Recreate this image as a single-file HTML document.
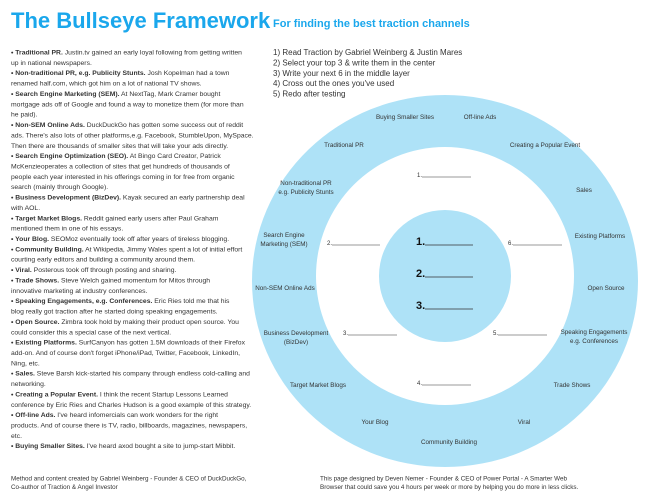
<!DOCTYPE html>
<html><head><meta charset="utf-8"><style>
html,body{margin:0;padding:0;background:#fff;}
svg{display:block;font-family:"Liberation Sans",sans-serif;}
</style></head><body>
<svg width="650" height="495" viewBox="0 0 650 495" xmlns="http://www.w3.org/2000/svg">
<rect width="650" height="495" fill="#fff"/>
<text x="11" y="28" font-size="22" font-weight="bold" fill="#1aa7ec">The Bullseye Framework</text>
<text x="273" y="27" font-size="11" font-weight="bold" fill="#1aa7ec">For finding the best traction channels</text>

<ellipse cx="445" cy="281" rx="193" ry="186" fill="#aee2f7"/>
<circle cx="445" cy="276" r="129" fill="#fff"/>
<circle cx="445" cy="276" r="66" fill="#aee2f7"/>

<g font-size="8" fill="#333">
<text x="273" y="55">1) Read Traction by Gabriel Weinberg &amp; Justin Mares</text>
<text x="273" y="65.5">2) Select your top 3 &amp; write them in the center</text>
<text x="273" y="76">3) Write your next 6 in the middle layer</text>
<text x="273" y="86">4) Cross out the ones you've used</text>
<text x="273" y="96.5">5) Redo after testing</text>
</g>

<g font-size="6.3" fill="#333" text-anchor="middle">
<text x="405" y="119">Buying Smaller Sites</text>
<text x="480" y="119">Off-line Ads</text>
<text x="344" y="147">Traditional PR</text>
<text x="545" y="147">Creating a Popular Event</text>
<text x="306" y="185">Non-traditional PR</text>
<text x="306" y="194">e.g. Publicity Stunts</text>
<text x="584" y="192">Sales</text>
<text x="284" y="237">Search Engine</text>
<text x="284" y="246">Marketing (SEM)</text>
<text x="600" y="238">Existing Platforms</text>
<text x="285" y="290">Non-SEM Online Ads</text>
<text x="606" y="290">Open Source</text>
<text x="296" y="335">Business Development</text>
<text x="296" y="344">(BizDev)</text>
<text x="594" y="334">Speaking Engagements</text>
<text x="594" y="343">e.g. Conferences</text>
<text x="318" y="387">Target Market Blogs</text>
<text x="572" y="387">Trade Shows</text>
<text x="375" y="424">Your Blog</text>
<text x="524" y="424">Viral</text>
<text x="449" y="444">Community Building</text>
</g>

<g font-size="6" fill="#333">
<text x="417" y="177">1.</text><line x1="422" y1="177" x2="471" y2="177" stroke="#333" stroke-width="0.6"/>
<text x="327" y="245">2.</text><line x1="332" y1="245" x2="380" y2="245" stroke="#333" stroke-width="0.6"/>
<text x="508" y="245">6.</text><line x1="513" y1="245" x2="562" y2="245" stroke="#333" stroke-width="0.6"/>
<text x="343" y="335">3.</text><line x1="348" y1="335" x2="397" y2="335" stroke="#333" stroke-width="0.6"/>
<text x="493" y="335">5.</text><line x1="498" y1="335" x2="547" y2="335" stroke="#333" stroke-width="0.6"/>
<text x="417" y="385">4.</text><line x1="422" y1="385" x2="471" y2="385" stroke="#333" stroke-width="0.6"/>
</g>
<g font-size="11" font-weight="bold" fill="#111">
<text x="416" y="245">1.</text><line x1="425" y1="245" x2="473" y2="245" stroke="#333" stroke-width="0.7"/>
<text x="416" y="277">2.</text><line x1="425" y1="277" x2="473" y2="277" stroke="#333" stroke-width="0.7"/>
<text x="416" y="309">3.</text><line x1="425" y1="309" x2="473" y2="309" stroke="#333" stroke-width="0.7"/>
</g>

<g font-size="6.8" fill="#333">
<text x="11" y="54.5"><tspan font-weight="bold">•  Traditional PR.</tspan> Justin.tv gained an early loyal following from getting written</text>
<text x="11" y="64.9">up in national newspapers.</text>
<text x="11" y="75.2"><tspan font-weight="bold">•  Non-traditional PR, e.g. Publicity Stunts.</tspan> Josh Kopelman had a town</text>
<text x="11" y="85.6">renamed half.com, which got him on a lot of national TV shows.</text>
<text x="11" y="96"><tspan font-weight="bold">•  Search Engine Marketing (SEM).</tspan> At NextTag, Mark Cramer bought</text>
<text x="11" y="106.3">mortgage ads off of Google and found a way to monetize them (for more than</text>
<text x="11" y="116.7">he paid).</text>
<text x="11" y="127"><tspan font-weight="bold">•  Non-SEM Online Ads.</tspan> DuckDuckGo has gotten some success out of reddit</text>
<text x="11" y="137.4">ads. There's also lots of other platforms,e.g. Facebook, StumbleUpon, MySpace.</text>
<text x="11" y="147.8">Then there are thousands of smaller sites that will take your ads directly.</text>
<text x="11" y="158.1"><tspan font-weight="bold">•  Search Engine Optimization (SEO).</tspan> At Bingo Card Creator, Patrick</text>
<text x="11" y="168.5">McKenzieoperates a collection of sites that get hundreds of thousands of</text>
<text x="11" y="178.9">people each year interested in his offerings coming in for free from organic</text>
<text x="11" y="189.2">search (mainly through Google).</text>
<text x="11" y="199.6"><tspan font-weight="bold">•  Business Development (BizDev).</tspan> Kayak secured an early partnership deal</text>
<text x="11" y="209.9">with AOL.</text>
<text x="11" y="220.3"><tspan font-weight="bold">•  Target Market Blogs.</tspan> Reddit gained early users after Paul Graham</text>
<text x="11" y="230.7">mentioned them in one of his essays.</text>
<text x="11" y="241"><tspan font-weight="bold">•  Your Blog.</tspan> SEOMoz eventually took off after years of tireless blogging.</text>
<text x="11" y="251.4"><tspan font-weight="bold">•  Community Building.</tspan> At Wikipedia, Jimmy Wales spent a lot of initial effort</text>
<text x="11" y="261.7">courting early editors and building a community around them.</text>
<text x="11" y="272.1"><tspan font-weight="bold">•  Viral.</tspan> Posterous took off through posting and sharing.</text>
<text x="11" y="282.5"><tspan font-weight="bold">•  Trade Shows.</tspan> Steve Welch gained momentum for Mitos through</text>
<text x="11" y="292.8">innovative marketing at industry conferences.</text>
<text x="11" y="303.2"><tspan font-weight="bold">•  Speaking Engagements, e.g. Conferences.</tspan> Eric Ries told me that his</text>
<text x="11" y="313.5">blog really got traction after he started doing speaking engagements.</text>
<text x="11" y="323.9"><tspan font-weight="bold">•  Open Source.</tspan> Zimbra took hold by making their product open source. You</text>
<text x="11" y="334.3">could consider this a special case of the next vertical.</text>
<text x="11" y="344.6"><tspan font-weight="bold">•  Existing Platforms.</tspan> SurfCanyon has gotten 1.5M downloads of their Firefox</text>
<text x="11" y="355">add-on. And of course don't forget iPhone/iPad, Twitter, Facebook, LinkedIn,</text>
<text x="11" y="365.3">Ning, etc.</text>
<text x="11" y="375.7"><tspan font-weight="bold">•  Sales.</tspan> Steve Barsh kick-started his company through endless cold-calling and</text>
<text x="11" y="386.1">networking.</text>
<text x="11" y="396.4"><tspan font-weight="bold">•  Creating a Popular Event.</tspan> I think the recent Startup Lessons Learned</text>
<text x="11" y="406.8">conference by Eric Ries and Charles Hudson is a good example of this strategy.</text>
<text x="11" y="417.1"><tspan font-weight="bold">•  Off-line Ads.</tspan> I've heard infomercials can work wonders for the right</text>
<text x="11" y="427.5">products. And of course there is TV, radio, billboards, magazines, newspapers,</text>
<text x="11" y="437.9">etc.</text>
<text x="11" y="448.2"><tspan font-weight="bold">•  Buying Smaller Sites.</tspan> I've heard axod bought a site to jump-start Mibbit.</text>
</g>

<g font-size="6.3" fill="#333">
<text x="11" y="480.5">Method and content created by Gabriel Weinberg - Founder &amp; CEO of DuckDuckGo,</text>
<text x="11" y="489">Co-author of Traction &amp; Angel Investor</text>
<text x="320" y="480.5">This page designed by Deven Nemer - Founder &amp; CEO of Power Portal - A Smarter Web</text>
<text x="320" y="489">Browser that could save you 4 hours per week or more by helping you do more in less clicks.</text>
</g>
</svg>
</body></html>
